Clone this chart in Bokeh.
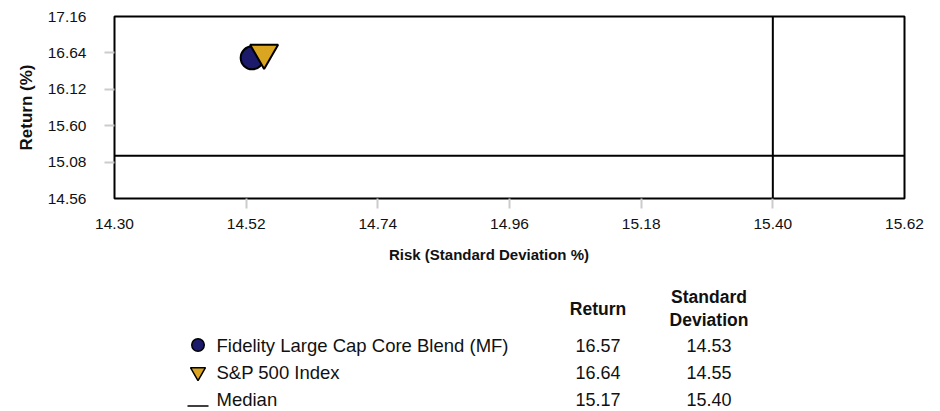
from bokeh.plotting import figure
from bokeh.models import Range1d, FixedTicker, PrintfTickFormatter, Span, ColumnDataSource
from bokeh.layouts import column
from bokeh.embed import file_html
from bokeh.resources import INLINE
from bokeh.core.properties import value

# ---------------- data ----------------
NAMES = ["Fidelity Large Cap Core Blend (MF)", "S&P 500 Index", "Median"]
RETURNS = [16.57, 16.64, 15.17]
RISKS = [14.53, 14.55, 15.40]
X_TICKS = [14.30, 14.52, 14.74, 14.96, 15.18, 15.40, 15.62]
Y_TICKS = [14.56, 15.08, 15.60, 16.12, 16.64, 17.16]
X_TITLE = "Risk (Standard Deviation %)"
Y_TITLE = "Return (%)"
HEADERS = ["Return", "Standard\nDeviation"]

# ---------------- styles ----------------
FONT = "Liberation Sans"
TEXT_COLOR = "#111111"
MARKERS = ["circle", "inverted_triangle"]
FILLS = ["#1B1A6B", "#DAA520"]
CHART_SIZES = [23, 28]
LEGEND_SIZES = [12.5, 15]

W = 940
H1 = 240
H2 = 171

# ---------------- chart ----------------
p = figure(width=W, height=H1, output_backend="svg", toolbar_location=None,
           x_range=Range1d(X_TICKS[0], X_TICKS[-1]),
           y_range=Range1d(Y_TICKS[0], Y_TICKS[-1]),
           min_border_left=114, min_border_right=36,
           min_border_top=16, min_border_bottom=42)
p.frame_align = False
p.grid.visible = False
p.outline_line_color = "black"
p.outline_line_width = 2
p.background_fill_color = "white"
p.border_fill_color = "white"

for ax, ticks in ((p.xaxis[0], X_TICKS), (p.yaxis[0], Y_TICKS)):
    ax.ticker = FixedTicker(ticks=ticks, minor_ticks=ticks[1:-1])
    ax.formatter = PrintfTickFormatter(format="%.2f")
    ax.axis_line_color = None
    ax.major_tick_line_color = None
    ax.major_tick_out = 9
    ax.major_tick_in = 0
    ax.minor_tick_line_color = "#cccccc"
    ax.minor_tick_line_width = 2
    ax.minor_tick_out = 10
    ax.minor_tick_in = 0
    ax.major_label_text_font = FONT
    ax.major_label_text_font_size = "15.5px"
    ax.major_label_text_color = TEXT_COLOR

p.xaxis.major_label_standoff = 10
p.yaxis.major_label_standoff = 18
p.yaxis.axis_label = Y_TITLE
p.yaxis.axis_label_text_font = FONT
p.yaxis.axis_label_text_font_size = "17px"
p.yaxis.axis_label_text_font_style = "bold"
p.yaxis.axis_label_text_color = TEXT_COLOR
p.yaxis.axis_label_standoff = 9

p.add_layout(Span(location=RETURNS[2], dimension="width", line_color="black", line_width=2))
p.add_layout(Span(location=RISKS[2], dimension="height", line_color="black", line_width=2))

for i in range(2):
    p.scatter(x=[RISKS[i]], y=[RETURNS[i]], marker=MARKERS[i], size=CHART_SIZES[i],
              fill_color=FILLS[i], line_color="black", line_width=2)

# ---------------- table / legend ----------------
t = figure(width=W, height=H2, output_backend="svg", toolbar_location=None,
           x_range=Range1d(0, W), y_range=Range1d(H2, 0), min_border=0,
           min_border_left=0, min_border_right=0, min_border_top=0, min_border_bottom=0,
           x_axis_type=None, y_axis_type=None)
t.frame_align = False
t.grid.visible = False
t.outline_line_color = None
t.background_fill_color = "white"
t.border_fill_color = "white"

TITLE_X, TITLE_Y = 488.5, 14
HEAD_Y = 68
ROW_Y0, ROW_H = 104.5, 27
MARK_X, NAME_X, RET_X, SD_X = 197.5, 216, 597.5, 708.5

row_y = [ROW_Y0 + i * ROW_H for i in range(len(NAMES))]

t.text(x=[TITLE_X], y=[TITLE_Y], text=[X_TITLE], text_font=value(FONT),
       text_font_size="15px", text_font_style="bold", text_color=TEXT_COLOR,
       text_align="center", text_baseline="middle")

t.text(x=[RET_X, SD_X], y=[HEAD_Y, HEAD_Y], text=HEADERS, text_font=value(FONT),
       text_font_size="17.5px", text_font_style="bold", text_color=TEXT_COLOR,
       text_align="center", text_baseline="middle", text_line_height=1.15)

src = ColumnDataSource(dict(
    y=row_y, name=NAMES,
    ret=["%.2f" % v for v in RETURNS],
    sd=["%.2f" % v for v in RISKS],
))
t.text(x=NAME_X, y="y", text="name", source=src, text_font=value(FONT),
       text_font_size="18.5px", text_color=TEXT_COLOR,
       text_align="left", text_baseline="middle")
t.text(x=RET_X, y="y", text="ret", source=src, text_font=value(FONT),
       text_font_size="18px", text_color=TEXT_COLOR,
       text_align="center", text_baseline="middle")
t.text(x=SD_X, y="y", text="sd", source=src, text_font=value(FONT),
       text_font_size="18px", text_color=TEXT_COLOR,
       text_align="center", text_baseline="middle")

for i in range(2):
    t.scatter(x=[MARK_X], y=[row_y[i]], marker=MARKERS[i], size=LEGEND_SIZES[i],
              fill_color=FILLS[i], line_color="black", line_width=1.5)
t.segment(x0=[MARK_X - 10.5], x1=[MARK_X + 10.5], y0=[row_y[2] + 7], y1=[row_y[2] + 7],
          line_color="black", line_width=1.5)

layout = column(p, t, spacing=0)
open("out.html", "w").write(file_html(layout, INLINE))
